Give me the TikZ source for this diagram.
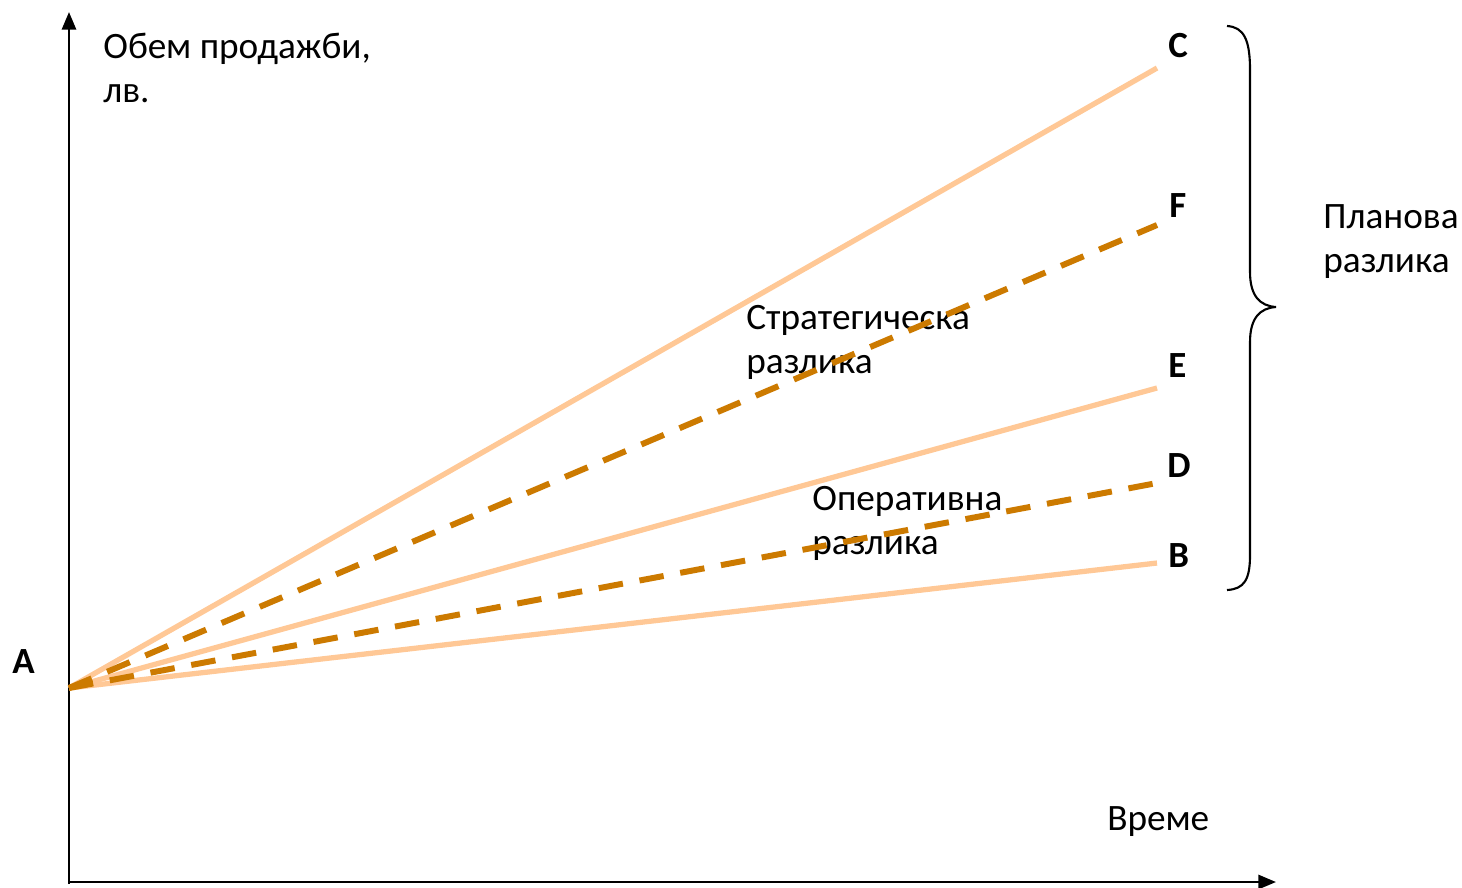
\documentclass[tikz,border=0pt]{standalone}
\usepackage{fontspec}
\setmainfont{Carlito}
\usetikzlibrary{arrows.meta}
\definecolor{peach}{HTML}{FFC896}
\definecolor{ochre}{HTML}{CC7A00}
\tikzset{
  txt/.style={anchor=base west, inner sep=0pt, font=\fontsize{21.2}{25}\selectfont},
  pt/.style={anchor=base west, inner sep=0pt, font=\fontsize{21}{25}\selectfont\bfseries},
  axis/.style={line width=1.5pt, -{Triangle[length=10pt,width=8pt]}},
  solidline/.style={draw=peach, line width=3pt},
  dashline/.style={draw=ochre, line width=3.4pt, dash pattern=on 14pt off 9.6pt},
  bracepath/.style={line width=1.2pt}
}
\begin{document}
\begin{tikzpicture}[x=0.02cm, y=-0.02cm]
\useasboundingbox (0,0) rectangle (1462,887);
% axes
\coordinate (O) at (69,884);
\coordinate (Ytop) at (69,12);
\coordinate (Xend) at (1276,882);
\draw[axis] (O) -- (Ytop);
\draw[axis] (69,882) coordinate (Xstart) -- (Xend);
% texts
\node[txt] (ylab1) at (103,58) {Обем продажби,};
\node[txt] (ylab2) at (103,102) {лв.};
\node[txt] (xlab) at (1107,830) {Време};
\node[txt] (str1) at (746,329) {Стратегическа};
\node[txt] (str2) at (746,373) {разлика};
\node[txt] (op1) at (812,510) {Оперативна};
\node[txt] (op2) at (812,554) {разлика};
\node[txt] (pl1) at (1323,228) {Планова};
\node[txt] (pl2) at (1323,272) {разлика};
% point labels
\node[pt] (lA) at (12,673) {A};
\node[pt] (lC) at (1168,57) {C};
\node[pt] (lF) at (1169,217) {F};
\node[pt] (lE) at (1168,377) {E};
\node[pt] (lD) at (1167,477) {D};
\node[pt] (lB) at (1168,567) {B};
% points
\coordinate (A) at (69,688);
\coordinate (C) at (1157,68);
\coordinate (F) at (1157,225);
\coordinate (E) at (1157,388);
\coordinate (D) at (1157,483);
\coordinate (B) at (1157,563);
% lines
\draw[solidline] (A) -- (C);
\draw[solidline] (A) -- (E);
\draw[solidline] (A) -- (B);
\draw[dashline] (A) -- (F);
\draw[dashline] (A) -- (D);
% brace
\coordinate (bt) at (1227,26);
\coordinate (bm) at (1276,307);
\coordinate (bb) at (1227,590);
\draw[bracepath] (bt) .. controls (1244,27) and (1250,40) .. (1250,70) -- (1250,272)
  .. controls (1250,296) and (1260,306) .. (bm)
  .. controls (1260,308) and (1250,318) .. (1250,342) -- (1250,555)
  .. controls (1250,580) and (1244,589) .. (bb);
\end{tikzpicture}
\end{document}
